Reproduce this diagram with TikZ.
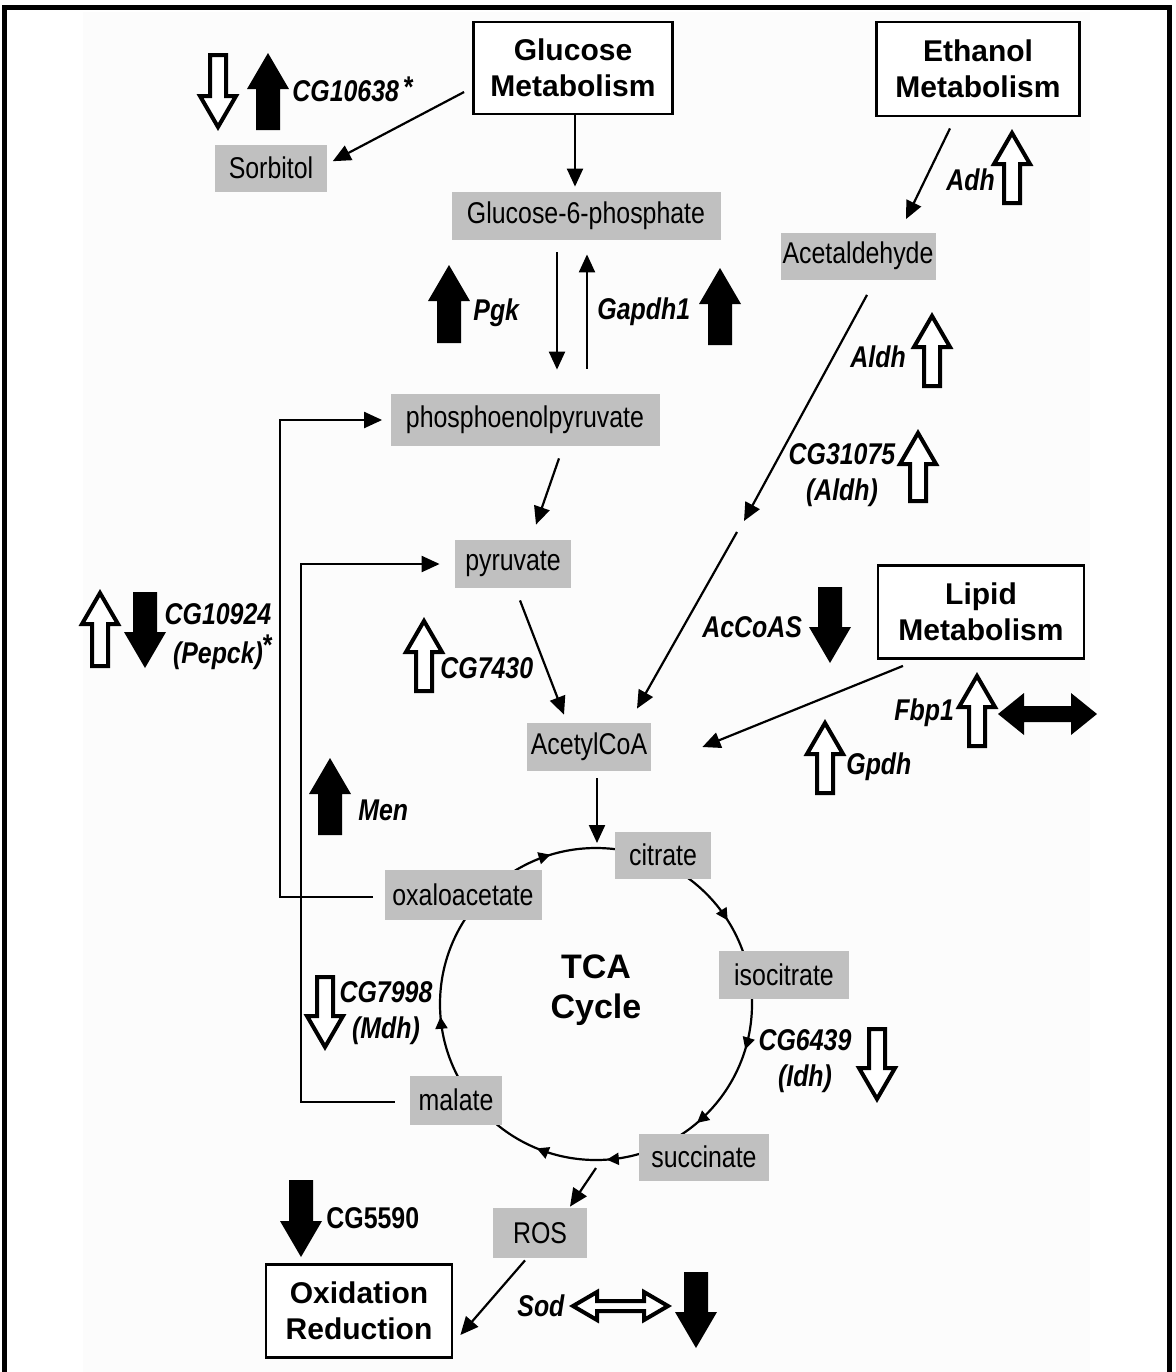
\documentclass[tikz,border=0pt]{standalone}
\usepackage{fontspec}
\setmainfont{Liberation Sans}
\newfontfamily\nar[FakeStretch=0.83]{Liberation Sans}
\usetikzlibrary{arrows.meta,decorations.markings}
\definecolor{boxgray}{RGB}{192,192,192}
\definecolor{bgtint}{RGB}{252,252,252}
\pgfdeclarelayer{bg}
\pgfsetlayers{bg,main}
\newcommand\blkv[7]{%
  \pgfmathsetmacro\bhy{#3+#7*sign(#4-#3)}%
  \path[#1] (#2,#3) -- ({#2+#6},\bhy) -- ({#2+#5},\bhy) -- ({#2+#5},#4) -- ({#2-#5},#4) -- ({#2-#5},\bhy) -- ({#2-#6},\bhy) -- cycle;}
\newcommand\blkh[7]{%
  \path[#1] (#3,#2) -- ({#3+#7},{#2-#6}) -- ({#3+#7},{#2-#5}) -- ({#4-#7},{#2-#5}) -- ({#4-#7},{#2-#6}) -- (#4,#2) -- ({#4-#7},{#2+#6}) -- ({#4-#7},{#2+#5}) -- ({#3+#7},{#2+#5}) -- ({#3+#7},{#2+#6}) -- cycle;}
\tikzset{
  met/.style={fill=boxgray, inner sep=0pt, font=\nar\fontsize{15}{18}\selectfont},
  proc/.style={draw, line width=1.4pt, fill=white, align=center, inner sep=0pt, font=\bfseries\fontsize{15}{18}\selectfont},
  gene/.style={inner sep=0pt, align=center, font=\nar\bfseries\itshape\fontsize{15}{18}\selectfont},
  conn/.style={line width=1.1pt, -{Triangle[length=9pt,width=8pt]}},
  hollowarr/.style={draw=black, fill=white, line width=2pt},
  solidarr/.style={fill=black},
  cyc/.style={line width=1.1pt},
  cycmark/.style={decoration={markings,
    mark=at position 0.09 with {\arrowreversed{Triangle[length=6pt,width=6pt]}},
    mark=at position 0.297 with {\arrowreversed{Triangle[length=6pt,width=6pt]}},
    mark=at position 0.513 with {\arrowreversed{Triangle[length=6pt,width=6pt]}},
    mark=at position 0.688 with {\arrowreversed{Triangle[length=6pt,width=6pt]}},
    mark=at position 0.761 with {\arrowreversed{Triangle[length=6pt,width=6pt]}},
    mark=at position 0.862 with {\arrowreversed{Triangle[length=6pt,width=6pt]}},
    mark=at position 0.953 with {\arrowreversed{Triangle[length=6pt,width=6pt]}}},
    postaction={decorate}},
}
\begin{document}
\begin{tikzpicture}[x=0.5pt,y=-0.5pt]
\useasboundingbox (0,0) rectangle (1175,1372);
% frame
\draw[line width=2.5pt] (4.5,1372) -- (4.5,7.5) -- (1169.5,7.5) -- (1169.5,1372);

% process boxes
\node[proc, minimum width=99.5pt, minimum height=46pt] (glu) at (573,68) {Glucose\\Metabolism};
\node[proc, minimum width=101.5pt, minimum height=47pt] (eth) at (978,69) {Ethanol\\Metabolism};
\node[proc, minimum width=103pt, minimum height=46.5pt] (lip) at (981,612) {Lipid\\Metabolism};
\node[proc, minimum width=93pt, minimum height=46.5pt] (oxr) at (359,1311) {Oxidation\\Reduction};

% metabolites
\node[met, minimum width=56pt, minimum height=23.5pt] (sorb) at (271,168) {Sorbitol};
\node[met, minimum width=134.5pt, minimum height=24pt] (g6p) at (586,216) {Glucose-6-phosphate};
\node[met, minimum width=77.5pt, minimum height=23.5pt] (acet) at (858,256) {Acetaldehyde};
\node[met, minimum width=134.5pt, minimum height=26pt] (pep) at (525,420) {phosphoenolpyruvate};
\node[met, minimum width=58pt, minimum height=24pt] (pyr) at (513,564) {pyruvate};
\node[met, minimum width=62pt, minimum height=24pt] (acoa) at (589,747) {AcetylCoA};
\node[met, minimum width=48pt, minimum height=23.5pt] (cit) at (663,855) {citrate};
\node[met, minimum width=78.5pt, minimum height=25pt] (oxa) at (463,895) {oxaloacetate};
\node[met, minimum width=65pt, minimum height=24pt] (iso) at (784,975) {isocitrate};
\node[met, minimum width=46pt, minimum height=24.5pt] (mal) at (456,1100) {malate};
\node[met, minimum width=65pt, minimum height=23.5pt] (suc) at (704,1157) {succinate};
\node[met, minimum width=47pt, minimum height=25pt] (ros) at (540,1233) {ROS};

% TCA cycle
\coordinate (tcac) at (596,1004);
\coordinate (tcatop) at (596,848);
\coordinate (tcabot) at (596,1160);
\begin{pgfonlayer}{bg}
  \fill[bgtint] (83,12) rectangle (1090,1372);
  \draw[cyc, cycmark] (tcac) circle[radius=78pt];
\end{pgfonlayer}
\node[font=\bfseries\fontsize{17}{20}\selectfont, align=center, inner sep=0pt] (tcal) at (596,990) {TCA\\Cycle};

% connectors
\draw[conn, shorten >=3pt] ([xshift=-4pt,yshift=-12pt]glu.west) -- ([yshift=2pt]sorb.east);
\draw[conn, shorten >=2.5pt] ([xshift=1pt]glu.south) -- ([xshift=1pt]glu.south |- g6p.north);
\draw[conn, shorten <=6pt, shorten >=12pt] ([xshift=-14.5pt]g6p.south) -- ([xshift=-14.5pt]g6p.south |- pep.north);
\draw[conn, shorten <=12.5pt, shorten >=7pt] ([xshift=0.5pt]g6p.south |- pep.north) -- ([xshift=0.5pt]g6p.south);
\draw[conn] ([xshift=17pt,yshift=-6pt]pep.south) -- ([xshift=11.5pt,yshift=7.5pt]pyr.north);
\draw[conn] ([xshift=3.5pt,yshift=-6pt]pyr.south) -- ([xshift=-12.5pt,yshift=4pt]acoa.north);
\coordinate (brkA) at (744,521);
\coordinate (brkB) at (737,532);
\draw[conn] ([xshift=4.5pt,yshift=-7.5pt]acet.south) -- (brkA);
\draw[conn] (brkB) -- ([xshift=24pt,yshift=7pt]acoa.north);
\draw[conn] ([xshift=-14pt,yshift=-5.5pt]eth.south) -- ([xshift=24pt,yshift=6.5pt]acet.north);
\draw[conn] ([xshift=-39pt,yshift=-3pt]lip.south) -- ([xshift=25.5pt]acoa.east);
\draw[conn, shorten >=2.5pt] ([xshift=4pt,yshift=-3.5pt]acoa.south) -- ([xshift=4pt]acoa.south |- tcatop);
\draw[conn] ([yshift=-4pt]tcabot) -- ([xshift=15pt,yshift=0.5pt]ros.north);
\draw[conn] ([xshift=-7.5pt,yshift=-1pt]ros.south) -- ([xshift=3.5pt,yshift=-12pt]oxr.east);
\draw[conn, shorten <=5.5pt, shorten >=4pt] ([yshift=-1pt]oxa.west) -- ++(-52pt,0) |- (pep.west);
\draw[conn, shorten <=7.5pt, shorten >=7.5pt] ([yshift=-1pt]mal.west) -- ++(-54.5pt,0) |- (pyr.west);

% gene labels
\node[gene, anchor=west] (lcg10638) at (292,89) {CG10638\rlap{\,\raisebox{2pt}{\upshape *}}};
\node[gene, anchor=west] (lpgk) at (473,313) {Pgk};
\node[gene, anchor=west] (lgapdh) at (597,312) {Gapdh1};
\node[gene, anchor=west] (ladh) at (946,180) {Adh};
\node[gene, anchor=west] (laldh) at (850,357) {Aldh};
\node[gene] (lcg31075) at (842,475) {CG31075\\(Aldh)};
\node[gene, anchor=west] (laccoas) at (702,627) {AcCoAS};
\node[gene, anchor=west] (lgpdh) at (846,767) {Gpdh};
\node[gene, anchor=west] (lfbp) at (894,713) {Fbp1};
\node[gene] (lpepck) at (218,637) {CG10924\\[1.5pt](Pepck)\rlap{\raisebox{4pt}{\upshape *}}};
\node[gene, anchor=west] (lcg7430) at (440,668) {CG7430};
\node[gene, anchor=west] (lmen) at (358,810) {Men};
\node[gene] (lmdh) at (386,1013) {CG7998\\(Mdh)};
\node[gene] (lidh) at (805,1061) {CG6439\\(Idh)};
\node[gene, font=\nar\bfseries\fontsize{15}{18}\selectfont, anchor=west] (lcg5590) at (326,1218) {CG5590};
\node[gene, anchor=west] (lsod) at (517,1306) {Sod};

% block arrows (expression changes)
\blkv{hollowarr}{218}{127}{55}{8}{18}{31}
\blkv{solidarr}{268}{53}{130}{12}{21}{36}
\blkv{solidarr}{449}{265}{343}{12}{21}{36}
\blkv{solidarr}{720}{268}{345}{12}{21}{36}
\blkv{hollowarr}{1012}{133}{203}{8}{18}{31}
\blkv{hollowarr}{932}{316}{386}{8}{18}{31}
\blkv{hollowarr}{918}{433}{501}{8}{18}{31}
\blkv{hollowarr}{100}{593}{666}{8}{18}{31}
\blkv{solidarr}{145}{668}{592}{12}{21}{36}
\blkv{hollowarr}{424}{621}{691}{8}{18}{31}
\blkv{solidarr}{830}{663}{587}{12}{21}{36}
\blkv{hollowarr}{825}{723}{793}{8}{18}{31}
\blkv{hollowarr}{977}{676}{746}{8}{18}{31}
\blkv{solidarr}{330}{758}{835}{12}{21}{36}
\blkv{hollowarr}{325}{1047}{977}{8}{18}{31}
\blkv{hollowarr}{877}{1099}{1029}{8}{18}{31}
\blkv{solidarr}{301}{1257}{1180}{12}{21}{36}
\blkv{solidarr}{696}{1348}{1272}{12}{21}{36}
\blkh{hollowarr}{1306}{573}{668}{5}{14}{24}
\blkh{solidarr}{714}{998}{1097}{8}{21}{26}
\end{tikzpicture}
\end{document}
